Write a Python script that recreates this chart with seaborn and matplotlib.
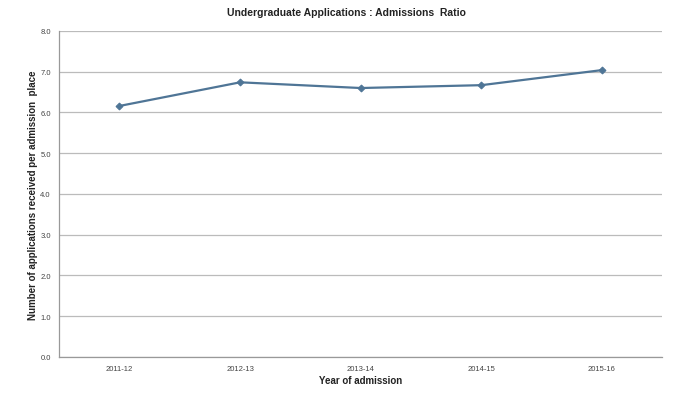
import pandas as pd
import matplotlib.pyplot as plt
import seaborn as sns
from matplotlib.ticker import FixedLocator

# Data
years = ["2011-12", "2012-13", "2013-14", "2014-15", "2015-16"]
ratio = [6.16, 6.74, 6.60, 6.67, 7.04]

df = pd.DataFrame({"Year": years, "Ratio": ratio})

sns.set_style("white")
plt.rcParams["font.family"] = ["Liberation Sans", "DejaVu Sans"]

fig = plt.figure(figsize=(6.8, 4.1), dpi=100)
ax = fig.add_axes([0.087, 0.127, 0.887, 0.795])

sns.lineplot(
    data=df, x="Year", y="Ratio", ax=ax,
    color="#4f7596", linewidth=1.6,
    marker="D", markersize=3.5, markeredgecolor="#4f7596",
)

ax.set_xlim(-0.5, len(years) - 0.5)
ax.set_ylim(0, 8)
ax.set_yticks(range(0, 9))
ax.set_yticklabels([f"{v:.1f}" for v in range(0, 9)], fontsize=5.5, color="#444444")
ax.yaxis.grid(True, color="#bbbbbb", linewidth=0.9)
ax.set_axisbelow(True)

ax.set_xticks(range(len(years)))
ax.set_xticklabels(years, fontsize=5.5, color="#444444")
ax.tick_params(axis="x", length=0, pad=6)
ax.xaxis.set_minor_locator(FixedLocator([i - 0.5 for i in range(len(years) + 1)]))
ax.tick_params(axis="x", which="minor", length=3, color="#999999")
ax.tick_params(axis="y", length=3, color="#999999", pad=3)

for s in ["top", "right"]:
    ax.spines[s].set_visible(False)
for s in ["left", "bottom"]:
    ax.spines[s].set_color("#999999")
    ax.spines[s].set_linewidth(0.9)

ax.set_xlabel("Year of admission", fontsize=7, fontweight="bold", color="#222222", labelpad=2)
ax.set_ylabel("Number of applications received per admission  place", fontsize=7,
              fontweight="bold", color="#222222", labelpad=2)
fig.suptitle("Undergraduate Applications : Admissions  Ratio", x=0.51, y=0.98,
             fontsize=7.5, fontweight="bold", color="#222222")

plt.savefig("out.png", dpi=100)
